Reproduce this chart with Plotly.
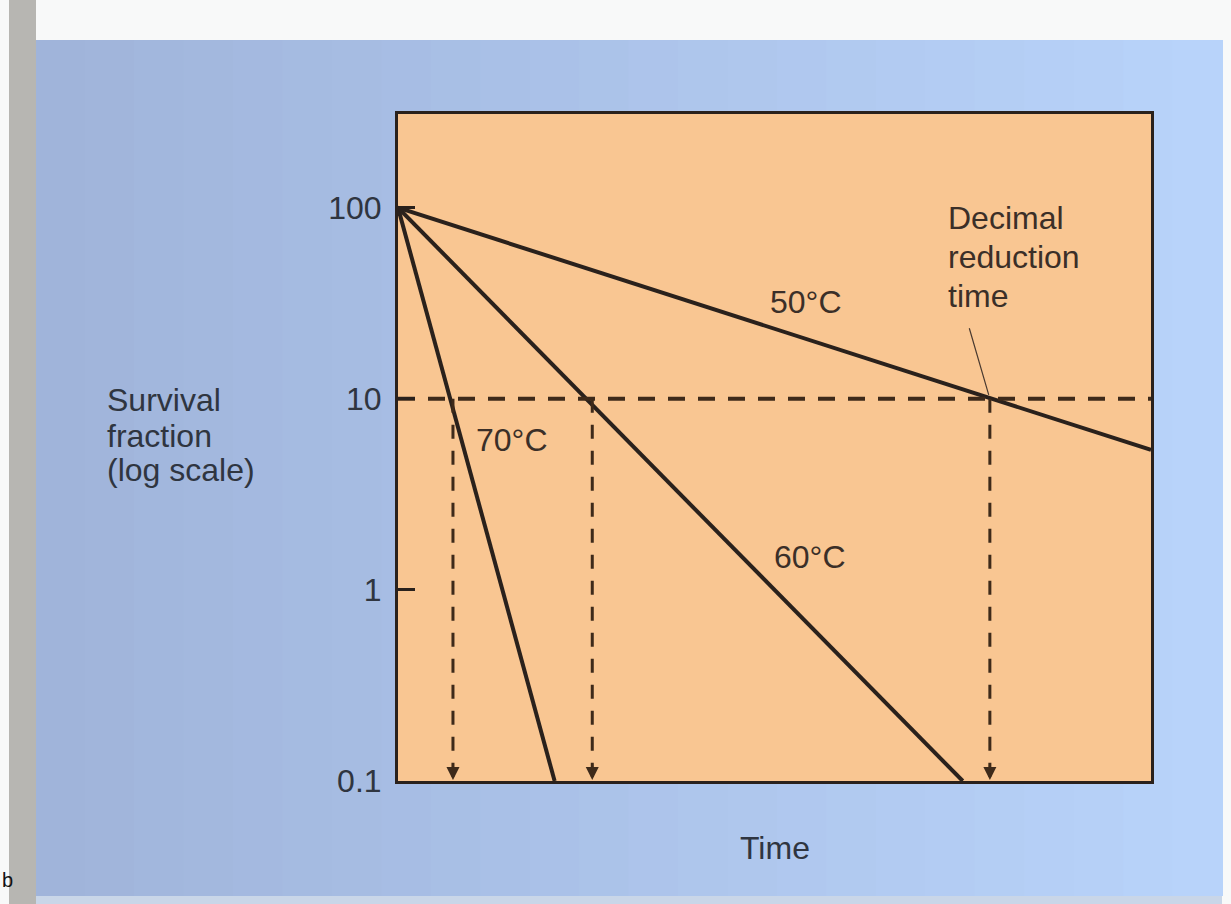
import math
import plotly.graph_objects as go

# ---------------- data ----------------
time_70 = [0, 20.8]
surv_70 = [100, 0.1]
time_60 = [0, 75.0]
surv_60 = [100, 0.1]
time_50 = [0, 100]
surv_50 = [100, 5.4]
decimal_reduction_times = [7.3, 25.8, 78.6]   # 70, 60, 50 °C
reference_level = 10
floor_level = 0.1
time_span = [0, 100]
y_tick_values = [0.1, 1, 10, 100]
y_tick_text = ["0.1", "1", "10", "100"]

# ---------------- geometry helpers (pixels -> paper) ----------------
W, H = 1231, 904
L, R, T, B = 398, 1151, 114, 781
def xp(px):
    return (px - L) / (R - L)
def yp(py):
    return (B - py) / (B - T)

INK = "#2a211c"
DASH = "#3e2a1a"
TXT_ON_ORANGE = "#3b2f28"
TXT_ON_BLUE = "#2f3540"
FONT = "Liberation Sans, Arial, sans-serif"
FS = 32

fig = go.Figure()

line_style = dict(color=INK, width=4)
for t, s in [(time_70, surv_70), (time_60, surv_60), (time_50, surv_50)]:
    fig.add_trace(go.Scatter(x=t, y=s, mode="lines", line=line_style,
                             hoverinfo="skip", showlegend=False))

# horizontal dashed reference at 10
fig.add_trace(go.Scatter(x=time_span, y=[reference_level, reference_level], mode="lines",
                         line=dict(color=DASH, width=4, dash="17px,13px"),
                         hoverinfo="skip", showlegend=False))
# vertical dashed drops
for d in decimal_reduction_times:
    fig.add_trace(go.Scatter(x=[d, d], y=[reference_level, floor_level], mode="lines",
                             line=dict(color=DASH, width=3, dash="14px,12px"),
                             hoverinfo="skip", showlegend=False))

annotations = []
for d in decimal_reduction_times:
    annotations.append(dict(x=d, y=math.log10(floor_level), xref="x", yref="y",
                            ax=0, ay=-18, axref="pixel", ayref="pixel",
                            text="", showarrow=True, arrowhead=2, arrowsize=1.3,
                            arrowwidth=2, arrowcolor=DASH, standoff=1))

def label(text, px, py, xanchor="center", size=FS, color=TXT_ON_ORANGE):
    annotations.append(dict(x=xp(px), y=yp(py), xref="paper", yref="paper",
                            text=text, showarrow=False, xanchor=xanchor, yanchor="middle",
                            font=dict(family=FONT, size=size, color=color)))

label("50°C", 806, 302)
label("60°C", 810, 557)
label("70°C", 512, 440)
label("Decimal", 946, 218, "left")
label("reduction", 946, 257, "left")
label("time", 946, 296, "left")
label("Survival", 105, 400, "left", color=TXT_ON_BLUE)
label("fraction", 105, 436, "left", color=TXT_ON_BLUE)
label("(log scale)", 105, 470, "left", color=TXT_ON_BLUE)
label("Time", 775, 848, color=TXT_ON_BLUE)
label("b", 0, 880, "left", 20, "#111111")

# pointer for "Decimal reduction time"
annotations.append(dict(x=decimal_reduction_times[2], y=math.log10(reference_level),
                        xref="x", yref="y", ax=-21, ay=-72, axref="pixel", ayref="pixel",
                        text="", showarrow=True, arrowhead=0, arrowwidth=1.2,
                        arrowcolor="#4a3a30", standoff=4))

# ---------------- background (scanned page look) ----------------
shapes = []
# blue gradient panel
c0 = (160, 180, 218)
c1 = (184, 211, 250)
n = 24
x_start, x_end = 35, 1222
for i in range(n):
    a = x_start + (x_end - x_start) * i / n
    b = x_start + (x_end - x_start) * (i + 1) / n
    f = i / (n - 1)
    col = "rgb(%d,%d,%d)" % tuple(round(c0[k] + (c1[k] - c0[k]) * f) for k in range(3))
    shapes.append(dict(type="rect", xref="paper", yref="paper", layer="below",
                       x0=xp(a), x1=xp(b + 1), y0=yp(896), y1=yp(40),
                       fillcolor=col, line=dict(width=0)))
# grey strip at left
shapes.append(dict(type="rect", xref="paper", yref="paper", layer="below",
                   x0=xp(9), x1=xp(36), y0=yp(904), y1=yp(0),
                   fillcolor="#b7b6b2", line=dict(width=0)))
# light strip at bottom of blue
shapes.append(dict(type="rect", xref="paper", yref="paper", layer="below",
                   x0=xp(36), x1=xp(1222), y0=yp(904), y1=yp(896),
                   fillcolor="#c9d6e8", line=dict(width=0)))
# orange plotting panel
shapes.append(dict(type="rect", xref="paper", yref="paper", layer="below",
                   x0=0, x1=1, y0=0, y1=1,
                   fillcolor="#f9c692", line=dict(width=0)))

fig.update_layout(
    width=W, height=H, autosize=False,
    margin=dict(l=L, r=W - R, t=T, b=H - B, pad=0),
    paper_bgcolor="#f8f9f9",
    plot_bgcolor="rgba(0,0,0,0)",
    showlegend=False,
    shapes=shapes,
    annotations=annotations,
    font=dict(family=FONT, size=FS, color=TXT_ON_ORANGE),
    xaxis=dict(range=time_span, showgrid=False, zeroline=False, showticklabels=False,
               ticks="", showline=True, mirror=True, linewidth=3, linecolor=INK,
               fixedrange=True),
    yaxis=dict(type="log", range=[-1, 2.49], tickvals=y_tick_values, ticktext=y_tick_text,
               ticks="inside", ticklen=17, tickwidth=3, tickcolor=INK,
               showgrid=False, zeroline=False, showline=True, mirror=True,
               linewidth=3, linecolor=INK, ticklabelstandoff=7,
               tickfont=dict(family=FONT, size=FS, color=TXT_ON_BLUE), fixedrange=True),
)

fig.write_html("out.html", config={"displayModeBar": False})
